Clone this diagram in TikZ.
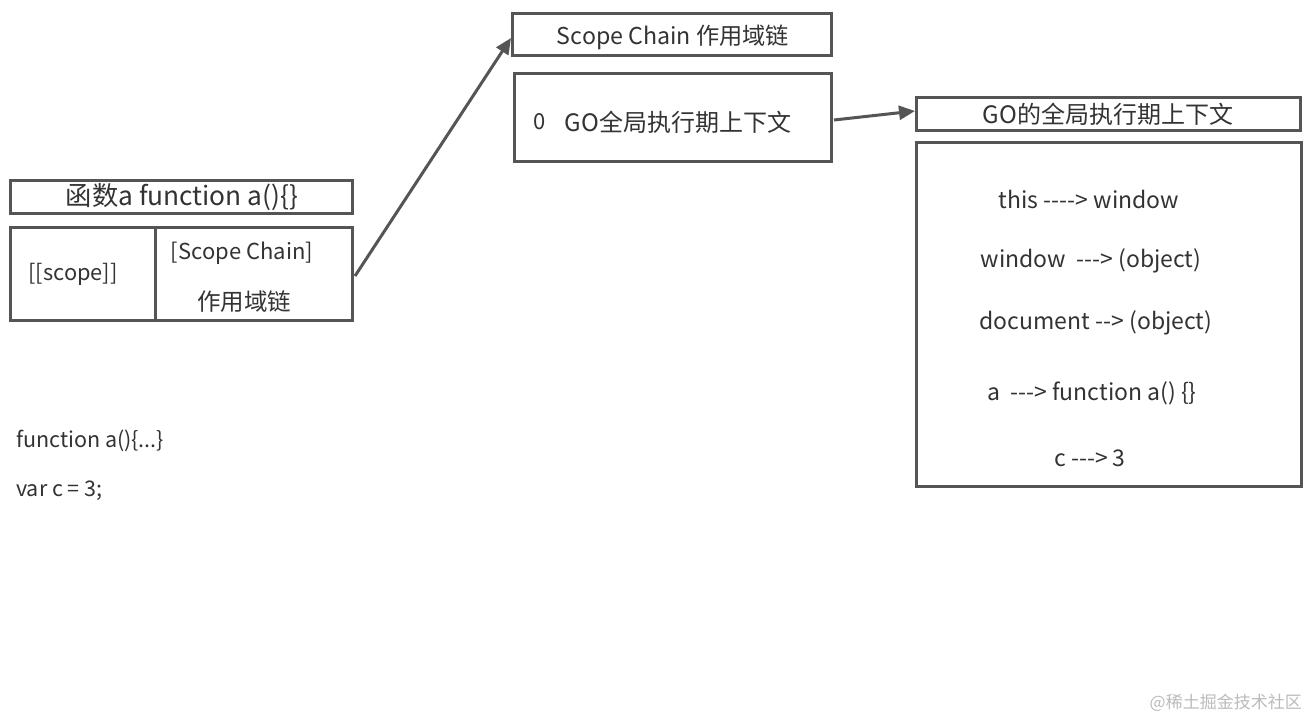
\documentclass[tikz,border=0pt]{standalone}
\usepackage{fontspec}
\setmainfont{Noto Sans CJK SC}[Ligatures=TeXOff]
\usetikzlibrary{arrows.meta}
\definecolor{edge}{HTML}{555555}
\definecolor{ink}{HTML}{333333}
\definecolor{wm}{HTML}{BBBBBB}
\newcommand{\fs}[1]{\fontsize{#1}{#1}\selectfont}
\tikzset{
  box/.style={draw=edge, line width=3pt, fill=white},
  txt/.style={text=ink, inner sep=0pt, anchor=center},
  conn/.style={draw=edge, line width=3pt, -{Triangle[length=16pt,width=14pt]}},
}
\begin{document}
\begin{tikzpicture}[x=1pt,y=-1pt]
\useasboundingbox[fill=white] (0,0) rectangle (1310,721);
% left function boxes
\draw[box] (10,180) rectangle (352,213);
\node[txt] (ftitle) at (182,197) {\fs{26.3}函数a function a()\{\}};
\draw[box] (10,227) rectangle (352,320);
\draw[draw=edge, line width=3pt] (155,227) -- (155,320);
\coordinate (fbox) at (355,276);
\node[txt] (scope) at (73,274) {\fs{21.8}[[scope]]};
\node[txt] (sc1) at (242,253) {\fs{22}[Scope Chain]};
\node[txt] (sc2) at (244,302) {\fs{23.5}作用域链};
% scope chain
\draw[box] (512,13) rectangle (831,55);
\node[txt] (sctitle) at (673,37) {\fs{23.2}Scope Chain 作用域链};
\coordinate (sctip) at (511,38);
\draw[box] (514,73) rectangle (831,161);
\node[txt] (zero) at (540,122) {\fs{22}0};
\node[txt] (go) at (678,122) {\fs{24}GO全局执行期上下文};
\coordinate (gobox) at (834,120);
% GO context
\draw[box] (916,97) rectangle (1300,130);
\node[txt] (gotitle) at (1108,114) {\fs{24}GO的全局执行期上下文};
\coordinate (gotip) at (915,111);
\draw[box] (916,142) rectangle (1301,486);
\node[txt] (l1) at (1089,199) {\fs{23}this ----> window};
\node[txt] (l2) at (1091,261) {\fs{23}window\ \ ---> (object)};
\node[txt] (l3) at (1096,323) {\fs{23}document --> (object)};
\node[txt] (l4) at (1092,393) {\fs{23}a\ \ ---> function a() \{\}};
\node[txt] (l5) at (1090,458) {\fs{23}c ---> 3};
% code
\node[txt, anchor=west] (code1) at (16,441) {\fs{21.5}function a()\{...\}};
\node[txt, anchor=west] (code2) at (16,491) {\fs{21.5}var c = 3;};
% watermark
\node[txt, anchor=east, text=wm] (wmk) at (1302,703) {\fs{17}@稀土掘金技术社区};
% connectors
\draw[conn] (fbox) -- (sctip);
\draw[conn] (gobox) -- (gotip);
\end{tikzpicture}
\end{document}
